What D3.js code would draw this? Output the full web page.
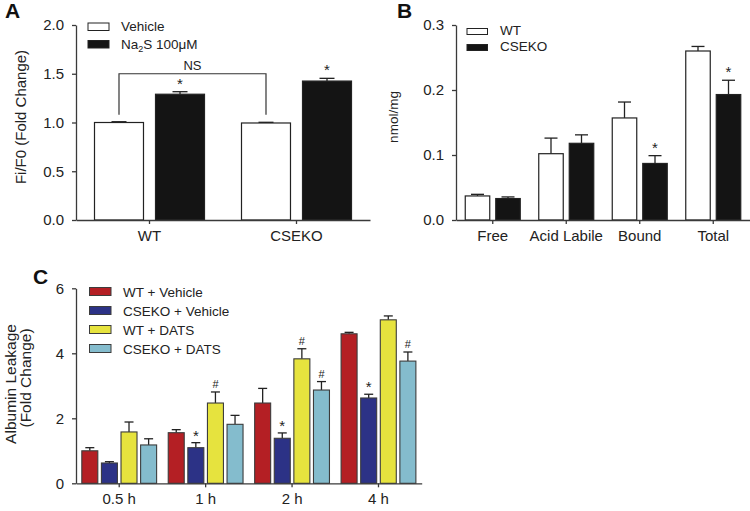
<!DOCTYPE html>
<html><head><meta charset="utf-8">
<script src="https://cdn.jsdelivr.net/npm/d3@7"></script>
<style>
body{margin:0;background:#fff;}
svg{display:block;font-family:"Liberation Sans",Arial,sans-serif;}
.axis path,.axis line{stroke:#3a3a3a;stroke-width:1.3;}
.axis text{fill:#222;}
</style></head><body>
<svg id="chart" width="750" height="511"></svg>
<script>
// ---------- Panel A data ----------
const aGroups = ["WT", "CSEKO"];
const aSeries = ["Vehicle", "Na2S"];
const aValues = [[1.00, 1.29], [0.995, 1.425]];
const aErrors = [[1.008, 1.316], [1.002, 1.453]];
const aTicks = [0, 0.5, 1.0, 1.5, 2.0];
const aStars = [[false, true], [false, true]];

// ---------- Panel B data ----------
const bGroups = ["Free", "Acid Labile", "Bound", "Total"];
const bSeries = ["WT", "CSEKO"];
const bValues = [[0.037, 0.033], [0.102, 0.118], [0.157, 0.087], [0.260, 0.193]];
const bErrors = [[0.0395, 0.0355], [0.126, 0.131], [0.1815, 0.099], [0.267, 0.215]];
const bTicks = [0, 0.1, 0.2, 0.3];
const bStars = [[false, false], [false, false], [false, true], [false, true]];

// ---------- Panel C data ----------
const cGroups = ["0.5 h", "1 h", "2 h", "4 h"];
const cSeries = ["WT + Vehicle", "CSEKO + Vehicle", "WT + DATS", "CSEKO + DATS"];
const cValues = [[1.00, 0.625, 1.58, 1.18], [1.557, 1.096, 2.47, 1.815], [2.47, 1.385, 3.83, 2.87], [4.60, 2.625, 5.03, 3.76]];
const cErrors = [[1.096, 0.665, 1.886, 1.37], [1.65, 1.25, 2.81, 2.09], [2.92, 1.55, 4.14, 3.13], [4.645, 2.74, 5.15, 4.04]];
const cTicks = [0, 2, 4, 6];
const cMarks = [["", "", "", ""], ["", "*", "#", ""], ["", "*", "#", "#"], ["", "*", "", "#"]];
const cColors = ["#b41f24", "#2c3286", "#e6e33e", "#84bccd"];

const svg = d3.select("#chart");

function panelLetter(t, x, y) {
  svg.append("text").attr("x", x).attr("y", y).attr("font-size", 21)
    .attr("font-weight", "bold").attr("fill", "#111").text(t);
}

function styleAxis(g, fs) {
  g.attr("class", "axis");
  g.selectAll("text").attr("font-size", fs).attr("font-family", "Liberation Sans, Arial, sans-serif");
}

function errBar(g, x, y0, y1, cap) {
  g.append("line").attr("x1", x).attr("x2", x).attr("y1", y0).attr("y2", y1)
    .attr("stroke", "#222").attr("stroke-width", 1.3);
  g.append("line").attr("x1", x - cap / 2).attr("x2", x + cap / 2).attr("y1", y1).attr("y2", y1)
    .attr("stroke", "#222").attr("stroke-width", 1.3);
}

// ================= Panel A =================
{
  const x = d3.scaleBand().domain(aGroups).range([76, 370]);
  const xs = d3.scaleBand().domain(aSeries).range([0, 110]).paddingInner(0.197);
  const y = d3.scaleLinear().domain([0, 2]).range([220, 25]);
  const g = svg.append("g");
  const fills = ["#ffffff", "#141414"];
  aGroups.forEach((grp, i) => {
    const gx = x(grp) + x.bandwidth() / 2 - 55;
    aSeries.forEach((s, j) => {
      const bx = gx + xs(s);
      errBar(g, bx + xs.bandwidth() / 2, y(aValues[i][j]), y(aErrors[i][j]), 15);
      g.append("rect").attr("x", bx).attr("y", y(aValues[i][j]))
        .attr("width", xs.bandwidth()).attr("height", y(0) - y(aValues[i][j]))
        .attr("fill", fills[j]).attr("stroke", "#222").attr("stroke-width", 1.2);
      if (aStars[i][j]) g.append("text").attr("x", bx + xs.bandwidth() / 2).attr("y", y(aErrors[i][j]) - 3)
        .attr("text-anchor", "middle").attr("font-size", 15).attr("fill", "#222").text("*");
    });
  });
  // NS bracket
  const lx = x("WT") + x.bandwidth() / 2 - 55 + xs("Vehicle") + xs.bandwidth() / 2;
  const rx = x("CSEKO") + x.bandwidth() / 2 - 55 + xs("Vehicle") + xs.bandwidth() / 2;
  g.append("path").attr("d", `M${lx},${y(1.08)}V${y(1.5)}H${rx}V${y(1.08)}`)
    .attr("fill", "none").attr("stroke", "#333").attr("stroke-width", 1.2);
  g.append("text").attr("x", (lx + rx) / 2).attr("y", y(1.5) - 4).attr("text-anchor", "middle")
    .attr("font-size", 13).attr("fill", "#222").text("NS");

  const ya = svg.append("g").attr("transform", "translate(76,0)")
    .call(d3.axisLeft(y).tickValues(aTicks).tickFormat(d3.format(".1f")).tickSize(4).tickSizeOuter(0).tickPadding(8));
  styleAxis(ya, 15);
  const xa = svg.append("g").attr("transform", "translate(0,220)")
    .call(d3.axisBottom(x).tickSize(4).tickSizeOuter(0).tickPadding(6));
  styleAxis(xa, 15);
  svg.append("text").attr("transform", "translate(26,117) rotate(-90)").attr("text-anchor", "middle")
    .attr("font-size", 15).attr("fill", "#222").text("Fi/F0 (Fold Change)");
  // legend
  const lg = svg.append("g");
  const lab = ["Vehicle", "Na₂S 100μM"];
  lab.forEach((t, j) => {
    lg.append("rect").attr("x", 88).attr("y", 23 + j * 17.5).attr("width", 21).attr("height", 7.5)
      .attr("fill", fills[j]).attr("stroke", "#222").attr("stroke-width", 1);
  });
  lg.append("text").attr("x", 121).attr("y", 31).attr("font-size", 13.5).attr("fill", "#222").text("Vehicle");
  const t2 = lg.append("text").attr("x", 121).attr("y", 48.5).attr("font-size", 13.5).attr("fill", "#222");
  t2.append("tspan").text("Na");
  t2.append("tspan").attr("font-size", 9).attr("dy", 3).text("2");
  t2.append("tspan").attr("dy", -3).text("S 100μM");
  panelLetter("A", 5, 18);
}

// ================= Panel B =================
{
  const x = d3.scaleBand().domain(bGroups).range([456, 750]);
  const xs = d3.scaleBand().domain(bSeries).range([0, 55]).paddingInner(0.197);
  const y = d3.scaleLinear().domain([0, 0.3]).range([220, 25]);
  const g = svg.append("g");
  const fills = ["#ffffff", "#141414"];
  bGroups.forEach((grp, i) => {
    const gx = x(grp) + x.bandwidth() / 2 - 27.5;
    bSeries.forEach((s, j) => {
      const bx = gx + xs(s);
      errBar(g, bx + xs.bandwidth() / 2, y(bValues[i][j]), y(bErrors[i][j]), 13);
      g.append("rect").attr("x", bx).attr("y", y(bValues[i][j]))
        .attr("width", xs.bandwidth()).attr("height", y(0) - y(bValues[i][j]))
        .attr("fill", fills[j]).attr("stroke", "#222").attr("stroke-width", 1.2);
      if (bStars[i][j]) g.append("text").attr("x", bx + xs.bandwidth() / 2).attr("y", y(bErrors[i][j]) - 3)
        .attr("text-anchor", "middle").attr("font-size", 15).attr("fill", "#222").text("*");
    });
  });
  const ya = svg.append("g").attr("transform", "translate(456,0)")
    .call(d3.axisLeft(y).tickValues(bTicks).tickFormat(d3.format(".1f")).tickSize(4).tickSizeOuter(0).tickPadding(8));
  styleAxis(ya, 15);
  const xa = svg.append("g").attr("transform", "translate(0,220)")
    .call(d3.axisBottom(x).tickSize(4).tickSizeOuter(0).tickPadding(6));
  styleAxis(xa, 15);
  svg.append("text").attr("transform", "translate(398,117) rotate(-90)").attr("text-anchor", "middle")
    .attr("font-size", 13.5).attr("fill", "#222").text("nmol/mg");
  bSeries.forEach((t, j) => {
    svg.append("rect").attr("x", 467).attr("y", 28.5 + j * 16).attr("width", 20.5).attr("height", 6)
      .attr("fill", fills[j]).attr("stroke", "#222").attr("stroke-width", 1);
    svg.append("text").attr("x", 500).attr("y", 35 + j * 16).attr("font-size", 13.5).attr("fill", "#222").text(t);
  });
  panelLetter("B", 397, 18);
}

// ================= Panel C =================
{
  const x = d3.scaleBand().domain(cGroups).range([76, 421.7]);
  const xs = d3.scaleBand().domain(cSeries).range([0, 74.8]).paddingInner(0.184);
  const y = d3.scaleLinear().domain([0, 6]).range([483.3, 288.3]);
  const g = svg.append("g");
  cGroups.forEach((grp, i) => {
    const gx = x(grp) + x.bandwidth() / 2 - 37.4;
    cSeries.forEach((s, j) => {
      const bx = gx + xs(s);
      errBar(g, bx + xs.bandwidth() / 2, y(cValues[i][j]), y(cErrors[i][j]), 9);
      g.append("rect").attr("x", bx).attr("y", y(cValues[i][j]))
        .attr("width", xs.bandwidth()).attr("height", y(0) - y(cValues[i][j]))
        .attr("fill", cColors[j]).attr("stroke", "#3c3c3c").attr("stroke-width", 1.1);
      const m = cMarks[i][j];
      if (m) g.append("text").attr("x", bx + xs.bandwidth() / 2).attr("y", y(cErrors[i][j]) - (m === "*" ? 2 : 4))
        .attr("text-anchor", "middle").attr("font-size", m === "*" ? 15 : 11).attr("fill", "#222").text(m);
    });
  });
  const ya = svg.append("g").attr("transform", "translate(76,0)")
    .call(d3.axisLeft(y).tickValues(cTicks).tickFormat(d3.format("d")).tickSize(4).tickSizeOuter(0).tickPadding(8));
  styleAxis(ya, 15);
  const xa = svg.append("g").attr("transform", "translate(0,483.3)")
    .call(d3.axisBottom(x).tickSize(4).tickSizeOuter(0).tickPadding(6));
  styleAxis(xa, 15);
  svg.append("text").attr("transform", "translate(15.5,384) rotate(-90)").attr("text-anchor", "middle")
    .attr("font-size", 15.5).attr("fill", "#222").text("Albumin Leakage");
  svg.append("text").attr("transform", "translate(31,378) rotate(-90)").attr("text-anchor", "middle")
    .attr("font-size", 15.5).attr("fill", "#222").text("(Fold Change)");
  cSeries.forEach((t, j) => {
    svg.append("rect").attr("x", 89.5).attr("y", 287.5 + j * 19).attr("width", 21.5).attr("height", 8)
      .attr("fill", cColors[j]).attr("stroke", "#3c3c3c").attr("stroke-width", 1);
    svg.append("text").attr("x", 123).attr("y", 296.5 + j * 19).attr("font-size", 13.5).attr("fill", "#222").text(t);
  });
  panelLetter("C", 33, 284);
}
</script>
</body></html>
